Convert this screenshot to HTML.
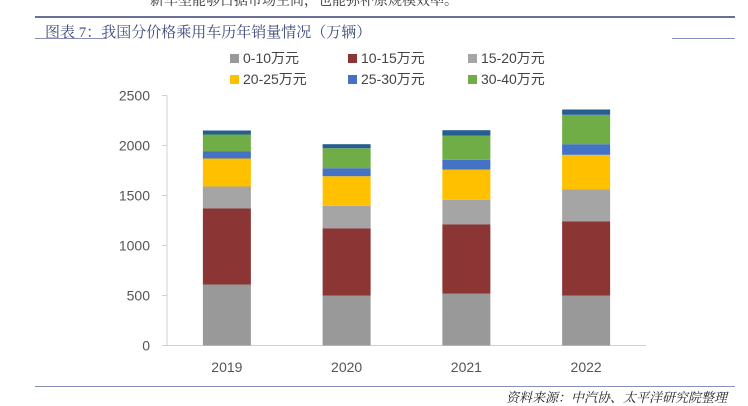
<!DOCTYPE html>
<html><head><meta charset="utf-8"><style>
body{margin:0;width:748px;height:404px;background:#fff;overflow:hidden;position:relative;font-family:"Liberation Sans","Noto Sans CJK SC",sans-serif}
.abs{position:absolute}
</style></head><body>
<div class="abs" style="left:150px;top:-10px;font-size:14px;color:#333;font-family:'Liberation Serif','Noto Serif CJK SC',serif">新车型能够占据市场空间，也能弥补原规模效率。</div>
<div class="abs" style="left:35px;top:16px;width:700px;height:2px;background:#6a6f9a"></div>
<div class="abs" style="left:45px;top:21px;font-size:15px;color:#3d4a7c;font-family:'Liberation Serif','Noto Serif CJK SC',serif">图表 7：我国分价格乘用车历年销量情况（万辆）</div>
<div class="abs" style="left:35px;top:38px;width:72px;height:1px;background:#8a8fb8"></div>
<div class="abs" style="left:672px;top:38px;width:63px;height:1px;background:#8a8fb8"></div>
<svg class="abs" style="left:0;top:0" width="748" height="404">
<g id="legend"></g><g id="axes"></g><g id="bars"></g>
</svg>
<div class="abs" style="left:35px;top:386px;width:700px;height:1px;background:#8a8fb8"></div>
<div class="abs" style="right:21px;top:387px;font-size:13px;font-style:italic;color:#222;font-family:'Liberation Serif','Noto Serif CJK SC',serif">资料来源：中汽协、太平洋研究院整理</div>
<script>
const categories=["2019","2020","2021","2022"];
const seriesNames=["0-10万元","10-15万元","15-20万元","20-25万元","25-30万元","30-40万元","40万元以上"];
const s0=[610,500,520,500];
const s1=[760,670,690,740];
const s2=[220,227,247,320];
const s3=[280,296,303,347];
const s4=[70,80,97,106];
const s5=[170,200,243,294];
const s6=[40,40,53,53];
const yTicks=[0,500,1000,1500,2000,2500];
const series=[s0,s1,s2,s3,s4,s5,s6];
const colors=["#999999","#8b3535","#a5a5a5","#ffc000","#4472c4","#70ad47","#255e91"];
const NS="http://www.w3.org/2000/svg";
const x0=167,x1=646,yBase=345.5,yMax=2500,plotH=250;
const y=v=>yBase-v/yMax*plotH;
const band=(x1-x0)/categories.length;
const xc=i=>x0+band*(i+0.5);
function mk(tag,at,parent){const e=document.createElementNS(NS,tag);for(const k in at)e.setAttribute(k,at[k]);parent.appendChild(e);return e;}
const axes=document.getElementById('axes'),bars=document.getElementById('bars'),leg=document.getElementById('legend');
let a=mk('line',{x1:x0,x2:x0,y1:y(2500),y2:yBase,stroke:'#d0d0d0'},axes);


a=mk('line',{x1:x0-5,x2:x1,y1:yBase,y2:yBase,stroke:'#d0d0d0'},axes);


yTicks.forEach(t=>{
 const l=mk('line',{x1:x0-5,x2:x0,y1:y(t),y2:y(t),stroke:'#d0d0d0'},axes);
 
 
 const tx=mk('text',{x:x0-17,y:y(t)+5,'text-anchor':'end','font-size':14,fill:'#555'},axes);
 tx.textContent=t;
 
 
});
categories.forEach((c,i)=>{
 const tx=mk('text',{x:xc(i),y:372,'text-anchor':'middle','font-size':14,fill:'#555'},axes);
 tx.textContent=c;
 
 
 let acc=0;
 series.forEach((s,k)=>{
  const r=mk('rect',{x:xc(i)-24,width:48,y:y(acc+s[i]),height:y(acc)-y(acc+s[i]),fill:colors[k]},bars);
  
  
  acc+=s[i];
 });
});
const lx=[230,348,468];
for(let k=0;k<6;k++){
 const gx=lx[k%3],gy=k<3?59:80;
 const r=mk('rect',{x:gx,y:gy-5,width:9,height:9,fill:colors[k]},leg);
 
 
 const t=mk('text',{x:gx+13,y:gy+4,'font-size':14,fill:'#444'},leg);
 t.textContent=seriesNames[k];
 
 
}
</script>
</body></html>
